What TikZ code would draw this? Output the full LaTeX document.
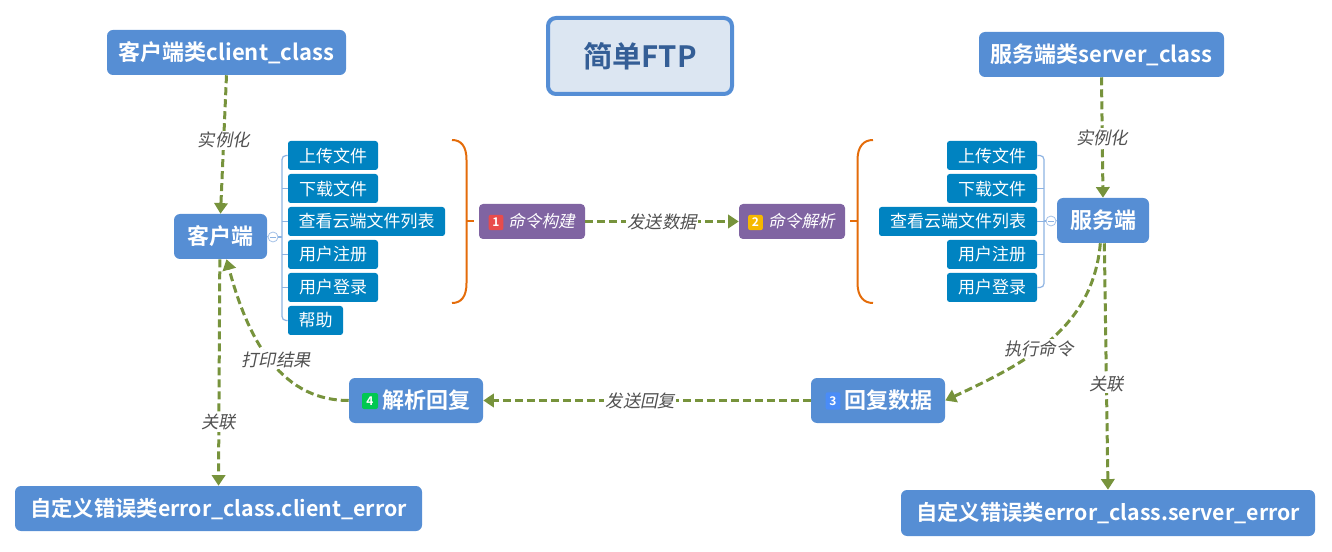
\documentclass[tikz,border=0pt]{standalone}
\usepackage{fontspec}
\setmainfont{Noto Sans CJK SC}[BoldFont={Noto Sans CJK SC Bold}]
\newfontfamily\lblfont{Noto Sans CJK SC}[FakeSlant=0.2]
\usetikzlibrary{arrows.meta}
\definecolor{nodeblue}{RGB}{86,142,212}
\definecolor{itemblue}{RGB}{0,131,193}
\definecolor{cmdpurple}{RGB}{128,100,162}
\definecolor{titlefill}{RGB}{220,230,242}
\definecolor{titleborder}{RGB}{85,142,213}
\definecolor{titletext}{RGB}{52,94,150}
\definecolor{conngreen}{RGB}{119,147,60}
\definecolor{braceorange}{RGB}{228,108,10}
\definecolor{lblgray}{RGB}{80,80,80}
\definecolor{busblue}{RGB}{141,179,226}
\definecolor{bred}{RGB}{232,76,76}
\definecolor{borange}{RGB}{245,184,0}
\definecolor{bblue}{RGB}{74,140,247}
\definecolor{bgreen}{RGB}{0,200,80}
\begin{document}
\begin{tikzpicture}[x=0.75pt,y=-0.75pt,
  box/.style={rounded corners=4.5pt, fill=nodeblue, text=white, font=\bfseries, inner sep=0pt, align=center},
  classbox/.style={box, minimum height=33.75pt, font=\bfseries\fontsize{16.5}{19}\selectfont},
  mainbox/.style={box, minimum height=33.75pt, font=\bfseries\fontsize{16.5}{19}\selectfont},
  stepbox/.style={box, minimum height=33.75pt, minimum width=100.5pt, font=\bfseries\fontsize{16.5}{19}\selectfont},
  errbox/.style={box, minimum height=33.75pt, font=\bfseries\fontsize{16}{18}\selectfont},
  item/.style={rounded corners=2pt, fill=itemblue, text=white, inner sep=0pt, minimum height=21.75pt, font=\fontsize{12.75}{14}\selectfont},
  cmdbox/.style={rounded corners=3pt, fill=cmdpurple, text=white, inner sep=0pt, minimum width=79.5pt, minimum height=26.25pt, font=\lblfont\fontsize{12.5}{14}\selectfont},
  badge/.style={rounded corners=1.5pt, inner sep=0pt, minimum width=11pt, minimum height=11.5pt, text=white, font=\bfseries\fontsize{9}{9}\selectfont},
  conn/.style={draw=conngreen, line width=2.25pt, dash pattern=on 6pt off 3pt, -{Triangle[length=8pt,width=10pt]}},
  lbl/.style={fill=white, inner sep=1pt, text=lblgray, font=\lblfont\fontsize{13}{15}\selectfont},
  bus/.style={draw=busblue, line width=0.9pt},
  bracecurve/.style={draw=braceorange, line width=1.5pt},
  dot/.style={circle, draw=busblue!80, fill=white, line width=0.6pt, minimum size=7.5pt, inner sep=0pt}
]
\useasboundingbox (0,0) rectangle (1332,552);

% top nodes
\node[classbox, minimum width=179.25pt] (cc) at (226.5,52.5) {客户端类client\_class};
\node[rounded corners=6pt, draw=titleborder, line width=3pt, fill=titlefill, text=titletext, minimum width=138pt, minimum height=57pt, inner sep=0pt, font=\bfseries\fontsize{22}{24}\selectfont] (title) at (640,56) {简单FTP};
\node[classbox, minimum width=183.75pt] (sc) at (1101.5,54.5) {服务端类server\_class};

% main nodes
\node[mainbox, minimum width=69.75pt] (client) at (220.5,236.5) {客户端};
\node[mainbox, minimum width=69pt] (server) at (1103,220.5) {服务端};

% left items
\node[item, minimum width=67.5pt] (l1) at (333,155.5) {上传文件};
\node[item, minimum width=67.5pt] (l2) at (333,188.5) {下载文件};
\node[item, minimum width=117.75pt] (l3) at (366.5,221.5) {查看云端文件列表};
\node[item, minimum width=67.5pt] (l4) at (333,254.5) {用户注册};
\node[item, minimum width=67.5pt] (l5) at (333,287.5) {用户登录};
\node[item, minimum width=41.25pt] (l6) at (315.5,320.5) {帮助};

% right items
\node[item, minimum width=67.5pt] (r1) at (992,155.5) {上传文件};
\node[item, minimum width=67.5pt] (r2) at (992,188.5) {下载文件};
\node[item, minimum width=118.5pt] (r3) at (958,221.5) {查看云端文件列表};
\node[item, minimum width=67.5pt] (r4) at (992,254.5) {用户注册};
\node[item, minimum width=67.5pt] (r5) at (992,287.5) {用户登录};

% buses
\node[dot] (ldot) at (273,237) {};
\draw[busblue, line width=0.6pt] ([xshift=-2.2pt]ldot.center) -- ([xshift=2.2pt]ldot.center);
\coordinate (lbus) at (282,237);
\draw[bus] (client.east) -- (ldot.west);
\draw[bus] (ldot.east) -- (lbus);
\draw[bus, rounded corners=3pt] (l1.west) -- (lbus |- l1.west) -- (lbus |- l6.west) -- (l6.west);
\foreach \n in {l2,l3,l4,l5} \draw[bus] (lbus |- \n.west) -- (\n.west);

\node[dot] (rdot) at (1051,221) {};
\draw[busblue, line width=0.6pt] ([xshift=-2.2pt]rdot.center) -- ([xshift=2.2pt]rdot.center);
\coordinate (rbus) at (1044,221);
\draw[bus] (server.west) -- (rdot.east);
\draw[bus] (rdot.west) -- (rbus);
\draw[bus, rounded corners=3pt] (r1.east) -- (rbus |- r1.east) -- (rbus |- r5.east) -- (r5.east);
\foreach \n in {r2,r3,r4} \draw[bus] (rbus |- \n.east) -- (\n.east);

% command boxes
\node[cmdbox] (cmd1) at (532,221.5) {\hspace*{14.25pt}命令构建};
\node[badge, fill=bred] (b1) at (496,222.5) {1};
\node[cmdbox] (cmd2) at (792,221.5) {\hspace*{14.25pt}命令解析};
\node[badge, fill=borange] (b2) at (755.5,222.5) {2};

% braces
\draw[bracecurve] (452,140) .. controls (461,140) and (466.5,146) .. (466.5,160) -- (466.5,283) .. controls (466.5,297) and (461,303) .. (452,303);
\coordinate (lbr) at (466.5,221.5);
\draw[bracecurve] (lbr) -- ++(7.5,0);
\draw[bracecurve] (873,140) .. controls (864,140) and (857.5,146) .. (857.5,160) -- (857.5,283) .. controls (857.5,297) and (864,303) .. (873,303);
\coordinate (rbr) at (857.5,221.5);
\draw[bracecurve] (rbr) -- ++(-7.5,0);

% step boxes
\node[stepbox] (reply) at (878,400.5) {\hspace*{15.75pt}回复数据};
\node[badge, fill=bblue, minimum height=13pt] (b3) at (833,401) {3};
\node[stepbox] (parse) at (416,400.5) {\hspace*{15pt}解析回复};
\node[badge, fill=bgreen, minimum width=12pt, minimum height=12pt] (b4) at (370,401) {4};

% error boxes
\node[errbox, minimum width=305.25pt] (cerr) at (218.5,508.5) {自定义错误类error\_class.client\_error};
\node[errbox, minimum width=310.5pt, minimum height=34.5pt] (serr) at (1108,513) {自定义错误类error\_class.server\_error};

% connectors
\draw[conn] (cc.south) -- node[lbl, pos=0.47] {实例化} (client.north);
\draw[conn] (sc.south) -- node[lbl, pos=0.5] {实例化} (server.north);
\draw[conn] (cmd1.east) -- node[lbl, pos=0.5] {发送数据} (cmd2.west);
\draw[conn] ([xshift=-2pt]server.south) to[out=-95, in=25] node[lbl, pos=0.56] {执行命令} (reply.east);
\draw[conn] ([xshift=1pt]server.south) -- node[lbl, pos=0.57] {关联} (serr.north);
\draw[conn] (reply.west) -- node[lbl, pos=0.52] {发送回复} (parse.east);
\draw[conn] (parse.west) to[out=180, in=-75] node[lbl, pos=0.48, xshift=5pt] {打印结果} ([xshift=4.5pt]client.south);
\draw[conn] ([xshift=-0.5pt]client.south) -- node[lbl, pos=0.72] {关联} (cerr.north);
\end{tikzpicture}
\end{document}
